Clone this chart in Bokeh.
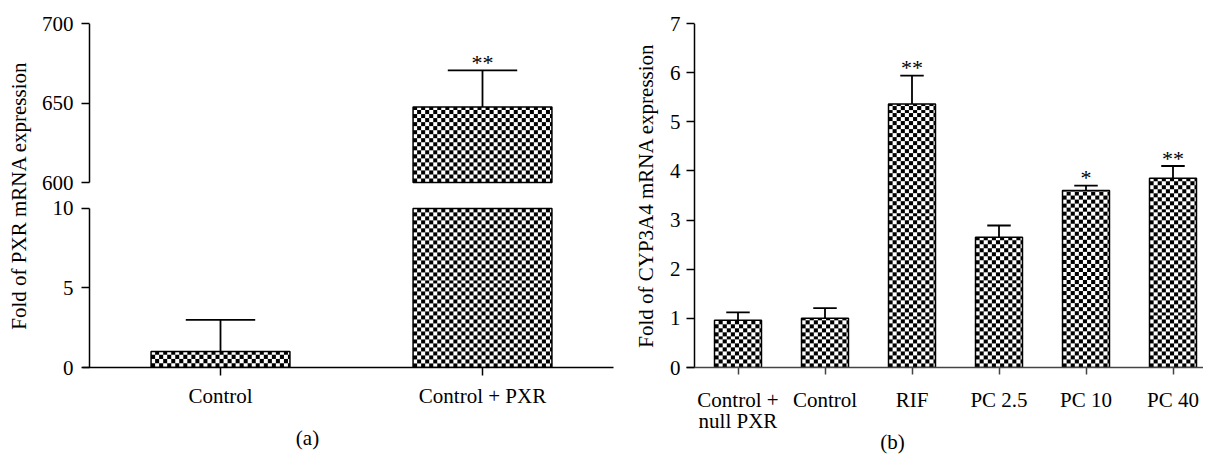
import numpy as np
from bokeh.plotting import figure
from bokeh.models import Range1d, LinearAxis, FixedTicker
from bokeh.layouts import row
from bokeh.embed import file_html
from bokeh.resources import INLINE
from bokeh.core.properties import value

# ---------------- data: panel (a) ----------------
a_categories = ["Control", "Control + PXR"]
a_values = [1.0, 647.5]
a_errors = [2.0, 23.0]
a_signif = ["", "**"]
a_low_ticks = [0, 5, 10]
a_high_ticks = [600, 650, 700]
a_ylabel = "Fold of PXR mRNA expression"
a_caption = "(a)"

# ---------------- data: panel (b) ----------------
b_categories = ["Control +\nnull PXR", "Control", "RIF", "PC 2.5", "PC 10", "PC 40"]
b_values = [0.96, 1.00, 5.36, 2.65, 3.60, 3.85]
b_errors = [0.16, 0.21, 0.58, 0.24, 0.10, 0.25]
b_signif = ["", "", "**", "", "*", "**"]
b_ticks = [0, 1, 2, 3, 4, 5, 6, 7]
b_ylabel = "Fold of CYP3A4 mRNA expression"
b_caption = "(b)"

FONT = "Liberation Serif"
FS = "21px"
CELL = 4


def checker(w, h, cell=CELL):
    yy, xx = np.mgrid[0:h, 0:w]
    black = ((xx // cell + yy // cell) % 2) == 0
    return np.where(black, 0xFF000000, 0xFFFFFFFF).astype(np.uint32)


def style_axis(ax, color="black", tick_out=8):
    ax.axis_line_color = color
    ax.axis_line_width = 1.5
    ax.major_tick_line_color = color
    ax.major_tick_line_width = 1.5
    ax.major_tick_in = 0
    ax.major_tick_out = tick_out
    ax.minor_tick_line_color = None
    ax.major_label_text_font = FONT
    ax.major_label_text_font_size = FS
    ax.major_label_text_color = "black"
    ax.major_label_standoff = 8
    ax.axis_label_text_font = FONT
    ax.axis_label_text_font_size = FS
    ax.axis_label_text_font_style = "normal"
    ax.axis_label_text_color = "black"


def caption_axis(text, pos, standoff):
    ax = LinearAxis(ticker=FixedTicker(ticks=[pos]), major_label_overrides={pos: text})
    ax.axis_line_color = None
    ax.major_tick_line_color = None
    ax.minor_tick_line_color = None
    ax.major_tick_out = 0
    ax.major_tick_in = 0
    ax.major_label_text_font = FONT
    ax.major_label_text_font_size = FS
    ax.major_label_text_color = "black"
    ax.major_label_standoff = standoff
    return ax


# ---------------- panel (a): broken axis ----------------
A_W, A_H = 620, 460
A_BL, A_BR, A_BT, A_BB = 82, 7, 23, 91
a_fw, a_fh = A_W - A_BL - A_BR, A_H - A_BT - A_BB
a_pxu = 262.0
a_over = 7  # x-axis overhang left of the y-axis rule, px
seg_px, gap_px = 160, 26
low_lo, low_hi = min(a_low_ticks), max(a_low_ticks)
hi_lo, hi_hi = min(a_high_ticks), max(a_high_ticks)
low_pxu = seg_px / (low_hi - low_lo)
hi_pxu = seg_px / (hi_hi - hi_lo)

x0a = -a_over / a_pxu
ya_range = Range1d(low_lo, low_lo + a_fh / low_pxu)
top_range = Range1d(hi_hi - a_fh / hi_pxu, hi_hi)
xa = np.arange(len(a_categories)) + 0.5
va = np.array(a_values)
ea = np.array(a_errors)

pa = figure(width=A_W, height=A_H, x_range=Range1d(x0a, x0a + a_fw / a_pxu), y_range=ya_range,
            output_backend="svg", toolbar_location=None,
            min_border_left=A_BL, min_border_right=A_BR, min_border_top=A_BT, min_border_bottom=A_BB)
pa.extra_y_ranges = {"top": top_range}
pa.grid.visible = False
pa.outline_line_color = None

bw_a = 0.53
w_px = int(round(bw_a * a_pxu))
for x, v in zip(xa, va):
    t = min(v, low_hi)
    h_px = int(round((t - low_lo) * low_pxu))
    pa.image_rgba(image=[checker(w_px, h_px)], x=x - bw_a / 2, y=low_lo, dw=bw_a, dh=t - low_lo)
    if v > hi_lo:
        h2 = int(round((v - hi_lo) * hi_pxu))
        pa.image_rgba(image=[checker(w_px, h2)], x=x - bw_a / 2, y=hi_lo, dw=bw_a, dh=v - hi_lo,
                      y_range_name="top")
pa.vbar(x=xa, top=np.minimum(va, low_hi), bottom=low_lo, width=bw_a, fill_color=None,
        line_color="black", line_width=1.5)
mask = va > hi_lo
pa.vbar(x=xa[mask], top=va[mask], bottom=hi_lo, width=bw_a, fill_color=None,
        line_color="black", line_width=1.5, y_range_name="top")

for rn in ("default", "top"):
    pa.segment(x0=xa, y0=va, x1=xa, y1=va + ea, line_color="black", line_width=1.8, y_range_name=rn)
    pa.segment(x0=xa - bw_a / 4, y0=va + ea, x1=xa + bw_a / 4, y1=va + ea,
               line_color="black", line_width=1.8, y_range_name=rn)
pa.text(x=xa, y=va + ea, text=a_signif, y_range_name="top", text_font=value(FONT), text_color="black",
        text_font_size="22px", text_align="center", text_baseline="middle", y_offset=-8)

# broken y-axis rule (two pieces); ticks and labels come from the axis
pa.segment(x0=[0], y0=[low_lo], x1=[0], y1=[low_hi], line_color="black", line_width=1.5)
pa.segment(x0=[0], y0=[hi_lo], x1=[0], y1=[hi_hi], line_color="black", line_width=1.5, y_range_name="top")


def to_default(t):
    return round(ya_range.start + (t - top_range.start) / (top_range.end - top_range.start)
                 * (ya_range.end - ya_range.start), 6)


ticks_a = [float(t) for t in a_low_ticks] + [to_default(t) for t in a_high_ticks]
labels_a = [str(t) for t in a_low_ticks] + [str(t) for t in a_high_ticks]
ya = pa.yaxis[0]
style_axis(ya, tick_out=1)
ya.major_tick_in = a_over
ya.axis_line_color = None
ya.ticker = FixedTicker(ticks=ticks_a)
ya.major_label_overrides = {k: s for k, s in zip(ticks_a, labels_a)}
ya.axis_label = a_ylabel
ya.axis_label_standoff = 8

style_axis(pa.xaxis[0])
pa.xaxis.ticker = FixedTicker(ticks=list(xa))
pa.xaxis.major_label_overrides = {float(x): c for x, c in zip(xa, a_categories)}
a_cap_pos = round((307 - A_BL) / a_pxu + x0a, 6)
pa.add_layout(caption_axis(a_caption, a_cap_pos, 15), "below")

# ---------------- panel (b) ----------------
B_W, B_H = 583, 460
B_BL, B_BR, B_BT, B_BB = 66, 0, 20, 93
b_fw, b_fh = B_W - B_BL - B_BR, B_H - B_BT - B_BB
b_pxu = 87.0
b_over = 8
x0b = -b_over / b_pxu
xb = np.arange(len(b_categories)) + 0.5
vb = np.array(b_values)
eb = np.array(b_errors)
yb_lo, yb_hi = min(b_ticks), max(b_ticks)
b_ypxu = b_fh / (yb_hi - yb_lo)
pb = figure(width=B_W, height=B_H, x_range=Range1d(x0b, x0b + b_fw / b_pxu), y_range=Range1d(yb_lo, yb_hi),
            output_backend="svg", toolbar_location=None,
            min_border_left=B_BL, min_border_right=B_BR, min_border_top=B_BT, min_border_bottom=B_BB)
pb.grid.visible = False
pb.outline_line_color = None

bw_b = 0.54
wb_px = int(round(bw_b * b_pxu))
for x, v in zip(xb, vb):
    h_px = int(round(v * b_ypxu))
    pb.image_rgba(image=[checker(wb_px, h_px)], x=x - bw_b / 2, y=0, dw=bw_b, dh=v)
pb.vbar(x=xb, top=vb, bottom=0, width=bw_b, fill_color=None, line_color="black", line_width=1.5)
pb.segment(x0=xb, y0=vb, x1=xb, y1=vb + eb, line_color="black", line_width=1.8)
pb.segment(x0=xb - bw_b / 4, y0=vb + eb, x1=xb + bw_b / 4, y1=vb + eb, line_color="black", line_width=1.8)
pb.text(x=xb, y=vb + eb, text=b_signif, text_font=value(FONT), text_font_size="22px", text_color="black",
        text_align="center", text_baseline="middle", y_offset=-8)
# y-axis rule drawn at x = 0 so the x-axis overhangs it on the left
pb.segment(x0=[0], y0=[yb_lo], x1=[0], y1=[yb_hi], line_color="black", line_width=1.5)

style_axis(pb.yaxis[0], tick_out=0)
pb.yaxis.major_tick_in = b_over
pb.yaxis.axis_line_color = None
pb.yaxis.ticker = FixedTicker(ticks=b_ticks)
pb.yaxis.major_label_standoff = 6
pb.yaxis.axis_label = b_ylabel
pb.yaxis.axis_label_standoff = 9

style_axis(pb.xaxis[0], color="#444444", tick_out=7)
pb.xaxis.ticker = FixedTicker(ticks=list(xb))
pb.xaxis.major_label_overrides = {float(x): c for x, c in zip(xb, b_categories)}
pb.xaxis.major_label_text_line_height = 0.9
pb.xaxis.major_label_standoff = 13
b_cap_pos = round((892 - (A_W + B_BL)) / b_pxu + x0b, 6)
pb.add_layout(caption_axis(b_caption, b_cap_pos, -7), "below")

layout = row(pa, pb)
open("out.html", "w").write(file_html(layout, INLINE))
